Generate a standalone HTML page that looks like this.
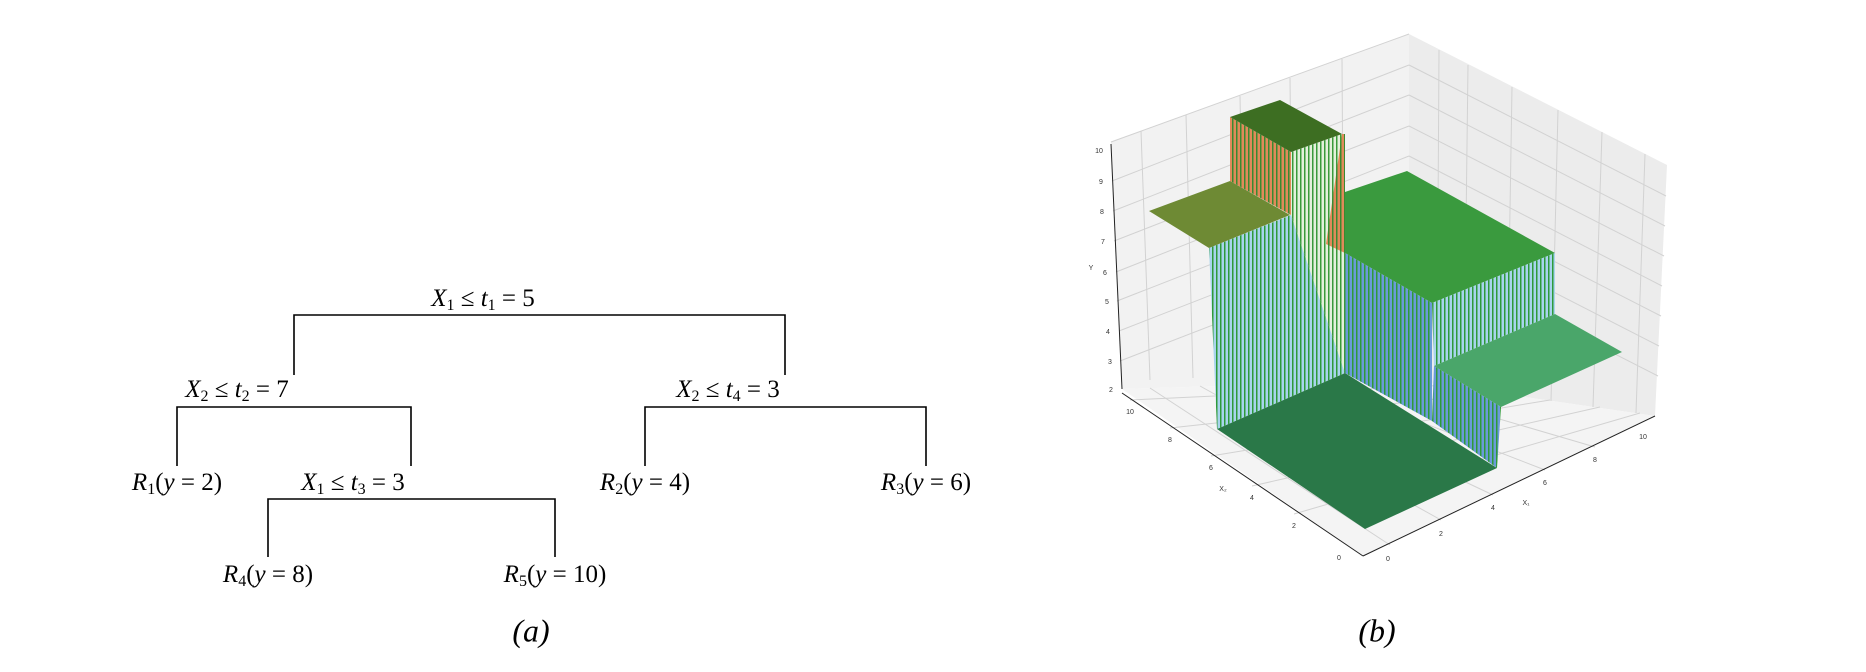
<!DOCTYPE html>
<html><head><meta charset="utf-8"><style>
html,body{margin:0;padding:0;background:#fff;}
body{width:1866px;height:672px;position:relative;overflow:hidden;}
.t{position:absolute;font-family:"Liberation Serif",serif;font-style:italic;font-size:25px;white-space:nowrap;transform:translate(-50%,-50%);color:#000;}
.t sub{font-size:16px;font-style:normal;vertical-align:-4px;}
.n{font-style:normal;}
</style></head><body>
<svg width="1866" height="672" style="position:absolute;left:0;top:0">
<defs>
<pattern id="vs" width="4" height="10" patternUnits="userSpaceOnUse"><rect width="4" height="10" fill="#a8d4ec"/><rect width="1.5" height="10" fill="#2e9a3a"/></pattern>
<pattern id="vb" width="4" height="10" patternUnits="userSpaceOnUse"><rect width="4" height="10" fill="#6a9ad8"/><rect width="1.5" height="10" fill="#2e9a3a"/></pattern>
<pattern id="vo" width="4" height="10" patternUnits="userSpaceOnUse"><rect width="4" height="10" fill="#e08a5a"/><rect width="1.5" height="10" fill="#3a8a30"/></pattern>
<pattern id="vw" width="4" height="10" patternUnits="userSpaceOnUse"><rect width="4" height="10" fill="#e4f0dc"/><rect width="1.5" height="10" fill="#3a9a3a"/></pattern>
</defs>
<g stroke="#000" stroke-width="1.6" fill="none">
<polyline points="294,375 294,315 785,315 785,375"/>
<polyline points="177,466 177,407 411,407 411,466"/>
<polyline points="645,466 645,407 926,407 926,466"/>
<polyline points="268,557 268,499 555,499 555,557"/>
</g>
<polygon points="1111,142 1409,34 1409,380 1122,389" fill="#f2f2f2"/>
<polygon points="1409,34 1667,165 1655,416 1409,380" fill="#ececec"/>
<polygon points="1122,389 1409,380 1655,416 1363,556" fill="#f4f4f4"/>
<g stroke="#d2d2d2" stroke-width="1" fill="none">
<line x1="1141" y1="131" x2="1150" y2="380"/><line x1="1186" y1="115" x2="1193" y2="378"/><line x1="1240" y1="96" x2="1245" y2="376"/><line x1="1290" y1="78" x2="1293" y2="376"/><line x1="1342" y1="59" x2="1344" y2="378"/>
<line x1="1439" y1="50" x2="1437" y2="384"/><line x1="1468" y1="65" x2="1464" y2="388"/><line x1="1512" y1="87" x2="1507" y2="395"/><line x1="1558" y1="110" x2="1551" y2="401"/><line x1="1602" y1="132" x2="1593" y2="407"/><line x1="1645" y1="154" x2="1636" y2="413"/>
<line x1="1111" y1="142" x2="1409" y2="34"/><line x1="1112" y1="181" x2="1409" y2="65"/><line x1="1113" y1="211" x2="1409" y2="95"/><line x1="1114" y1="241" x2="1409" y2="126"/><line x1="1116" y1="272" x2="1409" y2="156"/><line x1="1117" y1="301" x2="1409" y2="187"/><line x1="1119" y1="331" x2="1409" y2="218"/><line x1="1120" y1="361" x2="1409" y2="249"/>
<line x1="1409" y1="65" x2="1666" y2="196"/><line x1="1409" y1="95" x2="1665" y2="226"/><line x1="1409" y1="126" x2="1664" y2="256"/><line x1="1409" y1="156" x2="1662" y2="286"/><line x1="1409" y1="187" x2="1661" y2="316"/><line x1="1409" y1="218" x2="1659" y2="346"/><line x1="1409" y1="249" x2="1658" y2="376"/>
<line x1="1130" y1="400" x2="1450" y2="385"/><line x1="1170" y1="428" x2="1500" y2="392"/><line x1="1211" y1="456" x2="1550" y2="400"/><line x1="1252" y1="486" x2="1600" y2="407"/><line x1="1294" y1="514" x2="1640" y2="413"/>
<line x1="1390" y1="545" x2="1150" y2="388"/><line x1="1441" y1="520" x2="1200" y2="386"/><line x1="1493" y1="495" x2="1260" y2="385"/><line x1="1545" y1="470" x2="1320" y2="383"/><line x1="1595" y1="447" x2="1370" y2="381"/>
</g>
<g stroke="#222" stroke-width="1" fill="none">
<line x1="1111" y1="144" x2="1122" y2="389"/>
<line x1="1122" y1="393" x2="1363" y2="556"/>
<line x1="1363" y1="556" x2="1655" y2="416"/>
</g>
<polygon points="1217,429 1345,373 1497,468 1365,529" fill="#2a7848"/>
<polygon points="1209,248 1291,215 1345,373 1217,429" fill="url(#vs)"/>
<polygon points="1291,215 1291,152 1342,134 1345,253 1345,373" fill="url(#vw)"/>
<polygon points="1326,244 1345,253 1345,134 1342,134" fill="url(#vo)"/>
<polygon points="1230,117 1291,152 1291,215 1230,181" fill="url(#vo)"/>
<polygon points="1230,117 1280,100 1342,134 1291,152" fill="#3d6e22"/>
<polygon points="1149,211 1230,181 1290,215 1209,248" fill="#6e8a34"/>
<polygon points="1345,192 1407,171 1555,253 1432,303 1345,253" fill="#3a9a3e"/>
<polygon points="1345,253 1432,303 1432,421 1345,373" fill="url(#vb)"/>
<polygon points="1432,303 1555,253 1555,314 1434,366" fill="url(#vs)"/>
<polygon points="1434,366 1555,314 1622,352 1501,407" fill="#4aa66a"/>
<polygon points="1434,366 1501,407 1497,468 1432,421" fill="url(#vb)"/>
<g font-family="Liberation Sans,sans-serif" font-size="7" fill="#333" text-anchor="middle">
<text x="1099" y="153">10</text><text x="1101" y="184">9</text><text x="1102" y="214">8</text><text x="1103" y="244">7</text><text x="1105" y="275">6</text><text x="1107" y="304">5</text><text x="1108" y="334">4</text><text x="1110" y="364">3</text><text x="1111" y="392">2</text><text x="1091" y="270">Y</text>
<text x="1130" y="414">10</text><text x="1170" y="442">8</text><text x="1211" y="470">6</text><text x="1252" y="500">4</text><text x="1294" y="528">2</text><text x="1339" y="560">0</text><text x="1223" y="491">X₂</text>
<text x="1388" y="561">0</text><text x="1441" y="536">2</text><text x="1493" y="510">4</text><text x="1545" y="485">6</text><text x="1595" y="462">8</text><text x="1643" y="439">10</text><text x="1526" y="505">X₁</text>
</g>
</svg>
<div class="t" style="left:483px;top:300px">X<sub>1</sub> <span class="n">≤</span> t<sub>1</sub> <span class="n">= 5</span></div>
<div class="t" style="left:237px;top:391px">X<sub>2</sub> <span class="n">≤</span> t<sub>2</sub> <span class="n">= 7</span></div>
<div class="t" style="left:728px;top:391px">X<sub>2</sub> <span class="n">≤</span> t<sub>4</sub> <span class="n">= 3</span></div>
<div class="t" style="left:177px;top:484px">R<sub>1</sub><span class="n">(</span>y <span class="n">= 2)</span></div>
<div class="t" style="left:353px;top:484px">X<sub>1</sub> <span class="n">≤</span> t<sub>3</sub> <span class="n">= 3</span></div>
<div class="t" style="left:645px;top:484px">R<sub>2</sub><span class="n">(</span>y <span class="n">= 4)</span></div>
<div class="t" style="left:926px;top:484px">R<sub>3</sub><span class="n">(</span>y <span class="n">= 6)</span></div>
<div class="t" style="left:268px;top:576px">R<sub>4</sub><span class="n">(</span>y <span class="n">= 8)</span></div>
<div class="t" style="left:555px;top:576px">R<sub>5</sub><span class="n">(</span>y <span class="n">= 10)</span></div>
<div class="t" style="left:531px;top:631px;font-size:32px">(a)</div>
<div class="t" style="left:1377px;top:631px;font-size:32px">(b)</div>
</body></html>
